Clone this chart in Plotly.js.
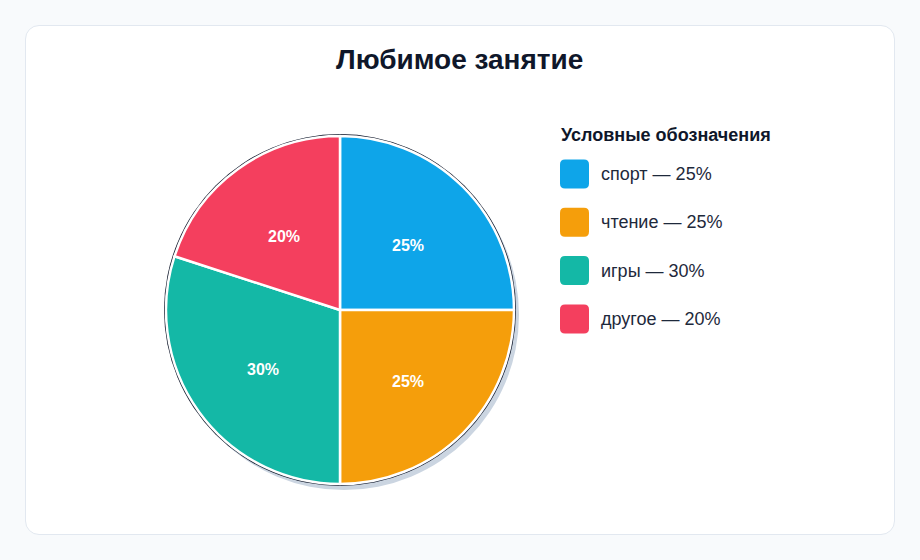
<!DOCTYPE html>
<html>
<head>
<meta charset="utf-8">
<script src="https://cdn.plot.ly/plotly-3.0.1.min.js"></script>
<style>
  html, body { margin:0; padding:0; background:#f8fafc; width:920px; height:560px; overflow:hidden; }
  #card { position:absolute; left:25px; top:25px; width:868px; height:508px; background:#ffffff; border:1.5px solid #e2e8f0; border-radius:14px; }
  #chart { position:absolute; left:0; top:0; width:920px; height:560px; }
</style>
</head>
<body>
<div id="card"></div>
<div id="chart"></div>
<script>
const categories = ["спорт", "чтение", "игры", "другое"];
const values = [25, 25, 30, 20];
const colors = ["#0ea5e9", "#f59e0b", "#14b8a6", "#f43f5e"];
const chartTitle = "Любимое занятие";
const legendTitle = "Условные обозначения";

const W = 920, H = 560;
const px = x => x / W;
const py = y => (H - y) / H;

// pie geometry in pixels
const cx = 340, cy = 310, R = 174;

const font = "Liberation Sans, Arial, sans-serif";

const total = values.reduce((a, b) => a + b, 0);

const trace = {
  type: "pie",
  labels: categories,
  values: values,
  sort: false,
  direction: "clockwise",
  rotation: 0,
  marker: { colors: colors, line: { color: "#ffffff", width: 2.5 } },
  textinfo: "none",
  hoverinfo: "label+percent",
  showlegend: false,
  domain: { x: [px(cx - R), px(cx + R)], y: [py(cy + R), py(cy - R)] }
};

function roundRectPath(x0, y0, x1, y1, r) {
  const pts = [
    `M${px(x0 + r)},${py(y0)}`,
    `L${px(x1 - r)},${py(y0)}`,
    `Q${px(x1)},${py(y0)} ${px(x1)},${py(y0 + r)}`,
    `L${px(x1)},${py(y1 - r)}`,
    `Q${px(x1)},${py(y1)} ${px(x1 - r)},${py(y1)}`,
    `L${px(x0 + r)},${py(y1)}`,
    `Q${px(x0)},${py(y1)} ${px(x0)},${py(y1 - r)}`,
    `L${px(x0)},${py(y0 + r)}`,
    `Q${px(x0)},${py(y0)} ${px(x0 + r)},${py(y0)}`,
    "Z"
  ];
  return pts.join(" ");
}

const shapes = [
  // shadow
  { type: "circle", xref: "paper", yref: "paper", layer: "below",
    x0: px(cx + 4 - R - 1), x1: px(cx + 4 + R + 1), y0: py(cy + 5 + R + 1), y1: py(cy + 5 - R - 1),
    fillcolor: "#cbd5e1", line: { width: 0 } },
  // dark outline
  { type: "circle", xref: "paper", yref: "paper", layer: "below",
    x0: px(cx - R - 2), x1: px(cx + R + 2), y0: py(cy + R + 2), y1: py(cy - R - 2),
    fillcolor: "#0f172a", line: { width: 0 } }
];

const annotations = [
  { text: "<b>" + chartTitle + "</b>", xref: "paper", yref: "paper",
    x: px(459), y: py(60), xanchor: "center", yanchor: "middle", showarrow: false,
    font: { family: font, size: 28, color: "#0f172a" } },
  { text: "<b>" + legendTitle + "</b>", xref: "paper", yref: "paper",
    x: px(559), y: py(135), xanchor: "left", yanchor: "middle", showarrow: false,
    font: { family: font, size: 18, color: "#0f172a" } }
];

// percent labels placed at mid-angle of each slice (derived from values)
let acc = 0;
values.forEach((v, i) => {
  const mid = (acc + v / 2) / total * 2 * Math.PI;
  acc += v;
  const rr = R * 0.55;
  annotations.push({ text: "<b>" + Math.round(v / total * 100) + "%</b>",
    xref: "paper", yref: "paper",
    x: px(cx + rr * Math.sin(mid)), y: py(cy + 3.5 - rr * Math.cos(mid)),
    xanchor: "center", yanchor: "middle", showarrow: false,
    font: { family: font, size: 16, color: "#ffffff" } });
});

categories.forEach((c, i) => {
  const yc = 174 + i * 48.3;
  shapes.push({ type: "path", xref: "paper", yref: "paper", layer: "above",
    path: roundRectPath(560, yc - 14.5, 589, yc + 14.5, 5),
    fillcolor: colors[i], line: { width: 0 } });
  annotations.push({ text: c + " — " + Math.round(values[i] / total * 100) + "%",
    xref: "paper", yref: "paper", x: px(599), y: py(yc), xanchor: "left", yanchor: "middle",
    showarrow: false, font: { family: font, size: 18, color: "#1e293b" } });
});

const layout = {
  width: W, height: H,
  margin: { l: 0, r: 0, t: 0, b: 0 },
  paper_bgcolor: "rgba(0,0,0,0)",
  plot_bgcolor: "rgba(0,0,0,0)",
  shapes: shapes,
  annotations: annotations,
  showlegend: false
};

Plotly.newPlot("chart", [trace], layout, { displayModeBar: false, staticPlot: true });
</script>
</body>
</html>
